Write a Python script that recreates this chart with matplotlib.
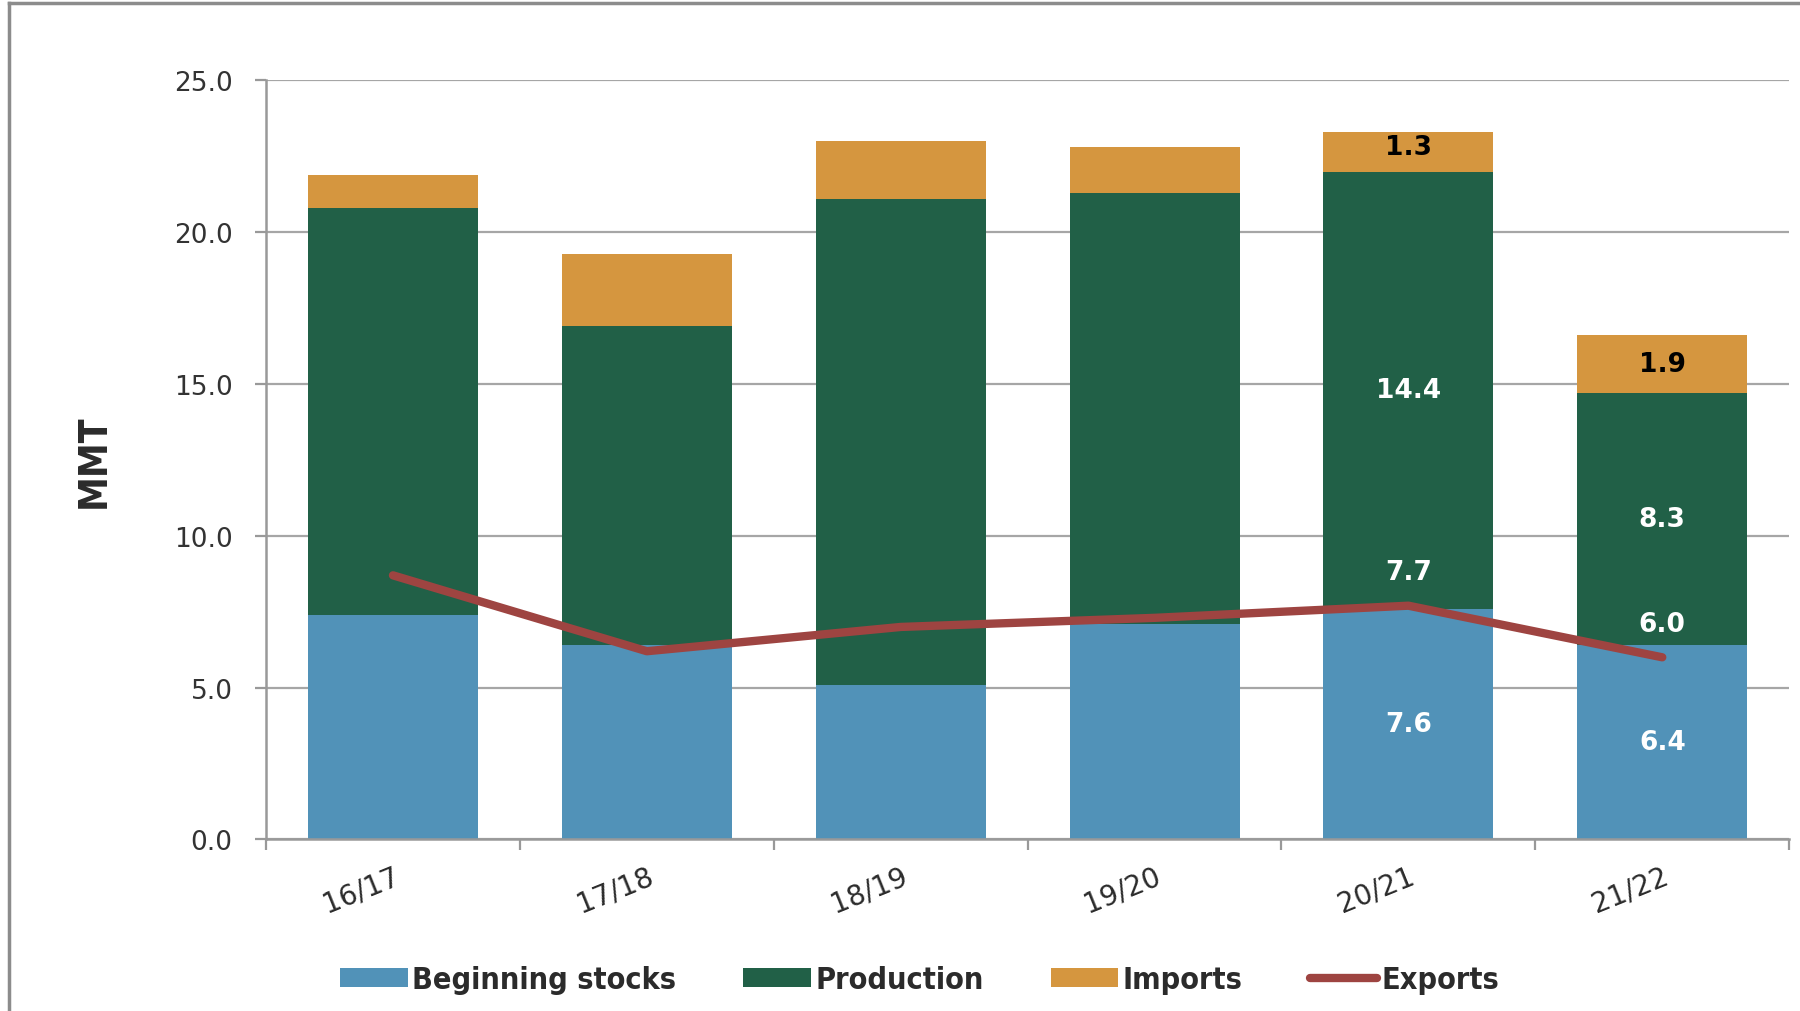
import matplotlib
matplotlib.use('Agg')
import matplotlib.pyplot as plt
from matplotlib.lines import Line2D
import numpy as np

# Data (MMT)
seasons = ['16/17', '17/18', '18/19', '19/20', '20/21', '21/22']
beginning_stocks = [7.4, 6.4, 5.1, 7.1, 7.6, 6.4]
production = [13.4, 10.5, 16.0, 14.2, 14.4, 8.3]
imports = [1.1, 2.4, 1.9, 1.5, 1.3, 1.9]
exports = [8.7, 6.2, 7.0, 7.3, 7.7, 6.0]
labeled = [4, 5]  # seasons whose values are printed on the chart

c_stocks = '#5192B8'
c_prod = '#216047'
c_imp = '#D5963F'
c_exp = '#9E4441'
c_grid = '#A6A6A6'
c_text = '#2B2B2B'

fig = plt.figure(figsize=(18, 10.12), dpi=100)
ax = fig.add_axes([0.1478, 0.1695, 0.8462, 0.75])

x = np.arange(len(seasons))
w = 0.67
bottom2 = np.array(beginning_stocks) + np.array(production)
h1 = ax.bar(x, beginning_stocks, w, color=c_stocks, zorder=2, label='Beginning stocks')
h2 = ax.bar(x, production, w, bottom=beginning_stocks, color=c_prod, zorder=2, label='Production')
h3 = ax.bar(x, imports, w, bottom=bottom2, color=c_imp, zorder=2, label='Imports')
h4, = ax.plot(x, exports, color=c_exp, lw=6, solid_capstyle='round', zorder=3, label='Exports')

# Value labels
lab_kw = dict(ha='center', va='center', fontsize=19, fontweight='bold', zorder=4)
for i in labeled:
    b = beginning_stocks[i]
    p = production[i]
    m = imports[i]
    ax.text(x[i], b / 2, f'{b:.1f}', color='white', **lab_kw)
    ax.text(x[i], b + p / 2, f'{p:.1f}', color='white', **lab_kw)
    ax.text(x[i], b + p + m / 2 + 0.15 * (i == 4), f'{m:.1f}', color='black', **lab_kw)
    ax.annotate(f'{exports[i]:.1f}', (x[i], exports[i]), xytext=(0, 24),
                textcoords='offset points', color='white', **lab_kw)

# Axes styling
ax.set_ylim(0, 25)
ax.set_xlim(-0.5, len(seasons) - 0.5)
ax.set_yticks(np.arange(0, 25.1, 5))
ax.set_yticklabels([f'{v:.1f}' for v in np.arange(0, 25.1, 5)])
ax.yaxis.grid(True, color=c_grid, lw=1.6, zorder=0)
ax.set_axisbelow(True)
for s in ['top', 'right']:
    ax.spines[s].set_visible(False)
for s in ['left', 'bottom']:
    ax.spines[s].set_color('#999999')
    ax.spines[s].set_linewidth(1.8)
ax.tick_params(axis='y', length=8, width=1.6, color='#999999', pad=16,
               labelsize=19, labelcolor='#333333')

ax.set_xticks(x)
ax.set_xticklabels(seasons, rotation=22, ha='right', rotation_mode='anchor',
                   fontsize=20, color=c_text)
ax.set_xticks(np.arange(-0.5, len(seasons)), minor=True)
ax.tick_params(axis='x', which='major', length=0, pad=16)
ax.tick_params(axis='x', which='minor', length=8, width=1.6, color='#999999')

ax.set_ylabel('MMT', fontsize=28, fontweight='bold', fontstretch='condensed',
              color=c_text, labelpad=44)

# Legend below plot
leg = fig.legend([h1, h2, h3, h4], ['Beginning stocks', 'Production', 'Imports', 'Exports'],
                 loc='center', bbox_to_anchor=(0.511, 1 - 981 / 1012), ncol=4,
                 frameon=False, handlelength=2.2, handleheight=0.6,
                 handletextpad=0.15, columnspacing=2.2,
                 prop={'size': 22, 'weight': 'bold', 'stretch': 'condensed'})
for t in leg.get_texts():
    t.set_color(c_text)

# Frame lines of the slide
fig.add_artist(Line2D([0.005, 0.005], [0, 0.996], color='#8C8C8C', lw=2.5))
fig.add_artist(Line2D([0.005, 1.0], [0.996, 0.996], color='#8C8C8C', lw=2.5))

plt.savefig('out.png', dpi=100)
